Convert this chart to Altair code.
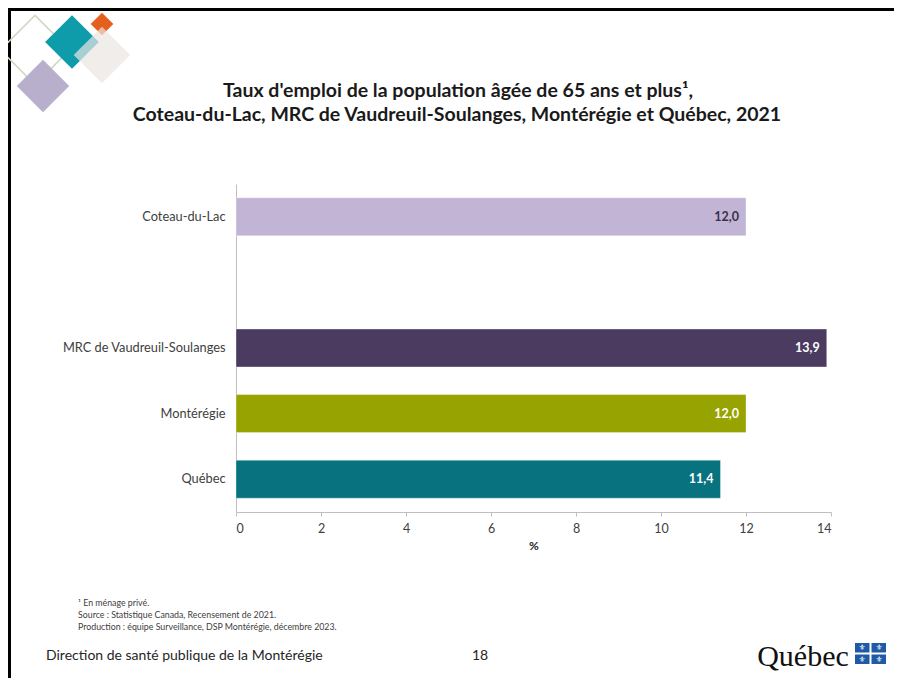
import altair as alt
import pandas as pd

# ---------------- data ----------------
categories = ["Coteau-du-Lac", "MRC de Vaudreuil-Soulanges", "Montérégie", "Québec"]
values = [12.0, 13.9, 12.0, 11.4]
bar_colors = ["#c2b4d5", "#4c3b61", "#97a300", "#08737f"]
label_colors = ["#3b2f4d", "#ffffff", "#ffffff", "#ffffff"]
y_slots = ["Coteau-du-Lac", " ", "MRC de Vaudreuil-Soulanges", "Montérégie", "Québec"]
x_ticks = [0, 2, 4, 6, 8, 10, 12, 14]

title_lines = [
    "Taux d'emploi de la population âgée de 65 ans et plus¹,",
    "Coteau-du-Lac, MRC de Vaudreuil-Soulanges, Montérégie et Québec, 2021",
]
footnotes = [
    "¹ En ménage privé.",
    "Source : Statistique Canada, Recensement de 2021.",
    "Production : équipe Surveillance, DSP Montérégie, décembre 2023.",
]
footer_left = "Direction de santé publique de la Montérégie"
page_number = "18"
logo_text = "Québec"

# ---------------- layout ----------------
FONT = "Lato"
OX, OY = 236, 184  # screen position of plot origin
W, H = 595, 328
PAD_L, PAD_T = OX - 8, OY - 8
PAD_R = 886 - W - PAD_L
PAD_B = 670 - H - PAD_T


def px(x):
    return x - OX


def py(y):
    return y - OY


one = pd.DataFrame({"d": [0]})

df = pd.DataFrame({
    "cat": categories,
    "val": values,
    "color": bar_colors,
    "lc": label_colors,
    "label": [f"{v:.1f}".replace(".", ",") for v in values],
})

y_scale = alt.Scale(domain=y_slots, paddingInner=0.42, paddingOuter=0.21)
x_scale = alt.Scale(domain=[0, 14], nice=False)

bars = alt.Chart(df).mark_bar(stroke="#ffffff", strokeWidth=0.6, strokeOpacity=0.6).encode(
    x=alt.X("val:Q", scale=x_scale,
            axis=alt.Axis(values=x_ticks, title="%", grid=False,
                          domainColor="#bfbfbf", tickColor="#bfbfbf", tickSize=4,
                          labelColor="#404040", labelFont=FONT, labelFontSize=12.5,
                          labelPadding=6, titleFont=FONT, titleFontSize=12,
                          titleFontWeight="bold", titleColor="#262626", titlePadding=6)),
    y=alt.Y("cat:N", scale=y_scale, sort=y_slots,
            axis=alt.Axis(title=None, ticks=False, domainColor="#bfbfbf",
                          labelColor="#404040", labelFont=FONT, labelFontSize=12.8,
                          labelPadding=11)),
    color=alt.Color("color:N", scale=None),
)

bar_labels = alt.Chart(df).mark_text(
    align="right", baseline="middle", dx=-7, font=FONT, fontSize=12.5, fontWeight="bold"
).encode(
    x=alt.X("val:Q", scale=x_scale),
    y=alt.Y("cat:N", scale=y_scale, sort=y_slots),
    text="label:N",
    color=alt.Color("lc:N", scale=None),
)


def text_at(txt, x, y, size, weight="normal", align="left", color="#262626", font=FONT):
    return alt.Chart(one).mark_text(
        align=align, baseline="middle", font=font, fontSize=size,
        fontWeight=weight, color=color
    ).encode(x=alt.value(px(x)), y=alt.value(py(y)), text=alt.value(txt))


def diamond(cx, cy, side, color, filled=True, opacity=1.0, stroke_w=0):
    kw = dict(shape="square", angle=45, size=side * side, opacity=opacity)
    if filled:
        kw.update(filled=True, fill=color, strokeWidth=0)
    else:
        kw.update(filled=False, stroke=color, strokeWidth=stroke_w)
    return alt.Chart(one).mark_point(**kw).encode(
        x=alt.value(px(cx)), y=alt.value(py(cy))
    )


def rect_at(x1, y1, x2, y2, color):
    return alt.Chart(one).mark_rect(color=color).encode(
        x=alt.value(px(x1)), x2=alt.value(px(x2)),
        y=alt.value(py(y1)), y2=alt.value(py(y2)),
    )


# frame of the slide: top and left edges
frame = [
    rect_at(8, 8, 894, 11, "#000000"),
    rect_at(8, 8, 11, 678, "#000000"),
]

# decorative diamonds
decor = [
    diamond(35, 50, 49, "#cfd8c2", filled=False, stroke_w=1.6),
    diamond(43, 86, 37, "#b7afcb"),
    diamond(72, 42, 38, "#0e9cab"),
    diamond(102, 24, 16, "#e5601e"),
    diamond(102, 55, 40, "#ebe6e3", opacity=0.7),
]

titles = [
    text_at(title_lines[0], 458, 91, 19.5, weight="bold", align="center", color="#1a1a1a"),
    text_at(title_lines[1], 457, 115, 19.5, weight="bold", align="center", color="#1a1a1a"),
]

notes = [text_at(t, 78, 603 + 12 * i, 8.8, color="#404040") for i, t in enumerate(footnotes)]

footer = [
    text_at(footer_left, 46, 656, 14, color="#262626"),
    text_at(page_number, 480, 656, 14, align="center", color="#262626"),
]

# Québec logo
logo = [
    text_at(logo_text, 803, 657, 30, align="center", color="#111111", font="Liberation Serif"),
    rect_at(855, 643, 869.5, 652.5, "#1f5aa6"),
    rect_at(871.5, 643, 886, 652.5, "#1f5aa6"),
    rect_at(855, 654.5, 869.5, 664, "#1f5aa6"),
    rect_at(871.5, 654.5, 886, 664, "#1f5aa6"),
]
for cx, cy in [(862, 648), (879, 648), (862, 659.5), (879, 659.5)]:
    logo.append(text_at("⚜", cx, cy, 8, align="center", color="#ffffff", font="DejaVu Sans"))

chart = alt.layer(
    *frame, *decor, bars, bar_labels, *titles, *notes, *footer, *logo
).properties(
    width=W, height=H,
    padding={"left": PAD_L, "top": PAD_T, "right": PAD_R, "bottom": PAD_B},
    autosize=alt.AutoSizeParams(type="none"),
    background="#ffffff",
).configure_view(stroke=None)

chart.save("out.html", embed_options={"renderer": "svg", "actions": False})
